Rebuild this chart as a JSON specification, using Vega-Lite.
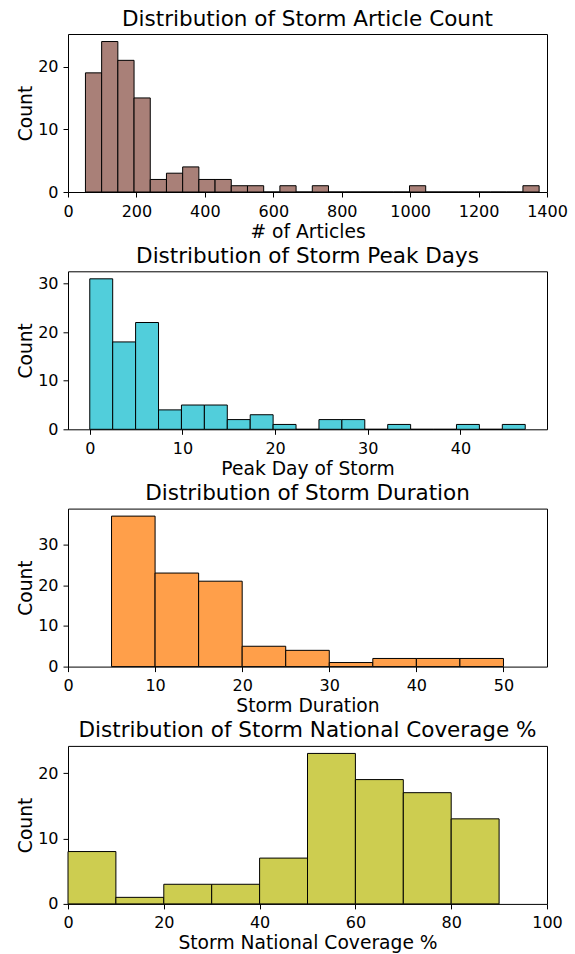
{
  "$schema": "https://vega.github.io/schema/vega-lite/v6.json",
  "padding": {"left": 16, "top": 8, "right": 5, "bottom": 5},
  "background": "white",
  "spacing": 79.3,
  "bounds": "flush",
  "config": {
    "font": "DejaVu Sans",
    "view": {"stroke": "#000", "strokeWidth": 1},
    "axis": {"domain": false, "grid": false, "tickColor": "#000", "tickSize": 5, "tickWidth": 1, "labelFontSize": 16, "labelColor": "#000", "titleFontSize": 18.7, "titleFontWeight": "normal", "titleColor": "#000", "labelPadding": 5, "labelFlush": false, "labelOverlap": false, "format": "d"},
    "axisX": {"labelPadding": 6, "titlePadding": 3},
    "axisY": {"titlePadding": 2},
    "title": {"fontSize": 21.5, "fontWeight": "normal", "color": "#000", "offset": 4},
    "bar": {"stroke": "#000", "strokeWidth": 1}
  },
  "vconcat": [
    {
      "title": "Distribution of Storm Article Count",
      "width": 479, "height": 158,
      "data": {"values": [
        {"bin_start": 51, "bin_end": 98.357, "count": 19},
        {"bin_start": 98.357, "bin_end": 145.714, "count": 24},
        {"bin_start": 145.714, "bin_end": 193.071, "count": 21},
        {"bin_start": 193.071, "bin_end": 240.429, "count": 15},
        {"bin_start": 240.429, "bin_end": 287.786, "count": 2},
        {"bin_start": 287.786, "bin_end": 335.143, "count": 3},
        {"bin_start": 335.143, "bin_end": 382.5, "count": 4},
        {"bin_start": 382.5, "bin_end": 429.857, "count": 2},
        {"bin_start": 429.857, "bin_end": 477.214, "count": 2},
        {"bin_start": 477.214, "bin_end": 524.571, "count": 1},
        {"bin_start": 524.571, "bin_end": 571.929, "count": 1},
        {"bin_start": 571.929, "bin_end": 619.286, "count": 0},
        {"bin_start": 619.286, "bin_end": 666.643, "count": 1},
        {"bin_start": 666.643, "bin_end": 714.0, "count": 0},
        {"bin_start": 714.0, "bin_end": 761.357, "count": 1},
        {"bin_start": 761.357, "bin_end": 808.714, "count": 0},
        {"bin_start": 808.714, "bin_end": 856.071, "count": 0},
        {"bin_start": 856.071, "bin_end": 903.429, "count": 0},
        {"bin_start": 903.429, "bin_end": 950.786, "count": 0},
        {"bin_start": 950.786, "bin_end": 998.143, "count": 0},
        {"bin_start": 998.143, "bin_end": 1045.5, "count": 1},
        {"bin_start": 1045.5, "bin_end": 1092.857, "count": 0},
        {"bin_start": 1092.857, "bin_end": 1140.214, "count": 0},
        {"bin_start": 1140.214, "bin_end": 1187.571, "count": 0},
        {"bin_start": 1187.571, "bin_end": 1234.929, "count": 0},
        {"bin_start": 1234.929, "bin_end": 1282.286, "count": 0},
        {"bin_start": 1282.286, "bin_end": 1329.643, "count": 0},
        {"bin_start": 1329.643, "bin_end": 1377, "count": 1}
      ]},
      "mark": {"type": "bar", "color": "#a98078", "stroke": "#000", "strokeWidth": 1},
      "encoding": {
        "x": {"field": "bin_start", "type": "quantitative", "scale": {"domain": [0, 1400], "nice": false, "zero": false}, "axis": {"values": [0, 200, 400, 600, 800, 1000, 1200, 1400], "title": "# of Articles"}},
        "x2": {"field": "bin_end"},
        "y": {"field": "count", "type": "quantitative", "scale": {"domain": [0, 25.2], "nice": false}, "axis": {"values": [0, 10, 20], "title": "Count"}},
        "y2": {"datum": 0}
      }
    },
    {
      "title": "Distribution of Storm Peak Days",
      "width": 479, "height": 158,
      "data": {"values": [
        {"bin_start": 0, "bin_end": 2.474, "count": 31},
        {"bin_start": 2.474, "bin_end": 4.947, "count": 18},
        {"bin_start": 4.947, "bin_end": 7.421, "count": 22},
        {"bin_start": 7.421, "bin_end": 9.895, "count": 4},
        {"bin_start": 9.895, "bin_end": 12.368, "count": 5},
        {"bin_start": 12.368, "bin_end": 14.842, "count": 5},
        {"bin_start": 14.842, "bin_end": 17.316, "count": 2},
        {"bin_start": 17.316, "bin_end": 19.789, "count": 3},
        {"bin_start": 19.789, "bin_end": 22.263, "count": 1},
        {"bin_start": 22.263, "bin_end": 24.737, "count": 0},
        {"bin_start": 24.737, "bin_end": 27.211, "count": 2},
        {"bin_start": 27.211, "bin_end": 29.684, "count": 2},
        {"bin_start": 29.684, "bin_end": 32.158, "count": 0},
        {"bin_start": 32.158, "bin_end": 34.632, "count": 1},
        {"bin_start": 34.632, "bin_end": 37.105, "count": 0},
        {"bin_start": 37.105, "bin_end": 39.579, "count": 0},
        {"bin_start": 39.579, "bin_end": 42.053, "count": 1},
        {"bin_start": 42.053, "bin_end": 44.526, "count": 0},
        {"bin_start": 44.526, "bin_end": 47, "count": 1}
      ]},
      "mark": {"type": "bar", "color": "#51cedb", "stroke": "#000", "strokeWidth": 1},
      "encoding": {
        "x": {"field": "bin_start", "type": "quantitative", "scale": {"domain": [-2.35, 49.35], "nice": false, "zero": false}, "axis": {"values": [0, 10, 20, 30, 40], "title": "Peak Day of Storm"}},
        "x2": {"field": "bin_end"},
        "y": {"field": "count", "type": "quantitative", "scale": {"domain": [0, 32.55], "nice": false}, "axis": {"values": [0, 10, 20, 30], "title": "Count"}},
        "y2": {"datum": 0}
      }
    },
    {
      "title": "Distribution of Storm Duration",
      "width": 479, "height": 158,
      "data": {"values": [
        {"bin_start": 5, "bin_end": 10, "count": 37},
        {"bin_start": 10, "bin_end": 15, "count": 23},
        {"bin_start": 15, "bin_end": 20, "count": 21},
        {"bin_start": 20, "bin_end": 25, "count": 5},
        {"bin_start": 25, "bin_end": 30, "count": 4},
        {"bin_start": 30, "bin_end": 35, "count": 1},
        {"bin_start": 35, "bin_end": 40, "count": 2},
        {"bin_start": 40, "bin_end": 45, "count": 2},
        {"bin_start": 45, "bin_end": 50, "count": 2}
      ]},
      "mark": {"type": "bar", "color": "#ff9f4a", "stroke": "#000", "strokeWidth": 1},
      "encoding": {
        "x": {"field": "bin_start", "type": "quantitative", "scale": {"domain": [0, 55], "nice": false, "zero": false}, "axis": {"values": [0, 10, 20, 30, 40, 50], "title": "Storm Duration"}},
        "x2": {"field": "bin_end"},
        "y": {"field": "count", "type": "quantitative", "scale": {"domain": [0, 38.85], "nice": false}, "axis": {"values": [0, 10, 20, 30], "title": "Count"}},
        "y2": {"datum": 0}
      }
    },
    {
      "title": "Distribution of Storm National Coverage %",
      "width": 479, "height": 158,
      "data": {"values": [
        {"bin_start": 0, "bin_end": 10, "count": 8},
        {"bin_start": 10, "bin_end": 20, "count": 1},
        {"bin_start": 20, "bin_end": 30, "count": 3},
        {"bin_start": 30, "bin_end": 40, "count": 3},
        {"bin_start": 40, "bin_end": 50, "count": 7},
        {"bin_start": 50, "bin_end": 60, "count": 23},
        {"bin_start": 60, "bin_end": 70, "count": 19},
        {"bin_start": 70, "bin_end": 80, "count": 17},
        {"bin_start": 80, "bin_end": 90, "count": 13}
      ]},
      "mark": {"type": "bar", "color": "#cdcd50", "stroke": "#000", "strokeWidth": 1},
      "encoding": {
        "x": {"field": "bin_start", "type": "quantitative", "scale": {"domain": [0, 100], "nice": false, "zero": false}, "axis": {"values": [0, 20, 40, 60, 80, 100], "title": "Storm National Coverage %"}},
        "x2": {"field": "bin_end"},
        "y": {"field": "count", "type": "quantitative", "scale": {"domain": [0, 24.15], "nice": false}, "axis": {"values": [0, 10, 20], "title": "Count"}},
        "y2": {"datum": 0}
      }
    }
  ]
}
